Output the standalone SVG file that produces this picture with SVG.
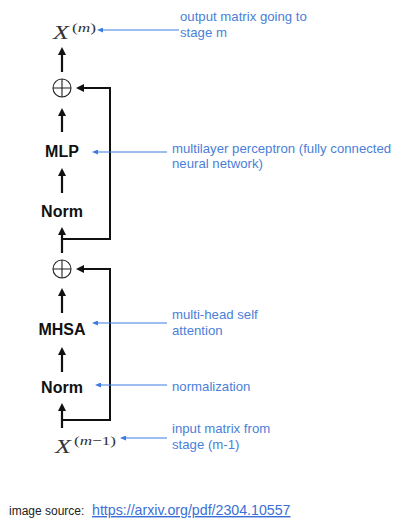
<svg xmlns="http://www.w3.org/2000/svg" width="400" height="523" viewBox="0 0 400 523">
<style>
.blk{font-family:"Liberation Sans",Arial,sans-serif;font-weight:bold;font-size:16px;fill:#111;text-anchor:middle}
.lbl{font-family:"Liberation Sans",Arial,sans-serif;font-size:13.2px;fill:#4a80d9}
.mx{font-family:"Liberation Serif","Times New Roman",serif;fill:#333}
.it{font-style:italic}
.arr{stroke:#111;stroke-width:2.2;fill:none;marker-end:url(#ah)}
.fb{stroke:#111;stroke-width:2;fill:none;marker-end:url(#ah)}
.bl{stroke:#3c7be0;stroke-width:1;fill:none;marker-end:url(#bh)}
.plus{stroke:#222;stroke-width:1.1;fill:none}
</style>
<defs>
<marker id="ah" viewBox="0 0 8 8" markerWidth="8" markerHeight="8" refX="2" refY="4" orient="auto" markerUnits="userSpaceOnUse">
<path d="M0,0 L8,4 L0,8 z" fill="#111"/>
</marker>
<marker id="bh" viewBox="0 0 6 5" markerWidth="6" markerHeight="5" refX="1" refY="2.5" orient="auto" markerUnits="userSpaceOnUse">
<path d="M0,0 L6,2.5 L0,5 z" fill="#3c7be0"/>
</marker>
</defs>
<rect width="400" height="523" fill="#fff"/>

<g id="connectors">
<line class="arr" x1="62" y1="72" x2="62" y2="53"/>
<line class="arr" x1="62" y1="132" x2="62" y2="114"/>
<line class="arr" x1="62" y1="193" x2="62" y2="174"/>
<line class="arr" x1="62" y1="253" x2="62" y2="233"/>
<line class="arr" x1="62" y1="313" x2="62" y2="294"/>
<line class="arr" x1="62" y1="372" x2="62" y2="353"/>
<line class="arr" x1="62" y1="428" x2="62" y2="409"/>
<path class="fb" d="M62,239 H110 V88 H82"/>
<path class="fb" d="M62,420 H110 V269 H82"/>
<line class="bl" x1="179" y1="30" x2="102" y2="30"/>
<line class="bl" x1="167" y1="152" x2="97" y2="152"/>
<line class="bl" x1="167" y1="323" x2="97" y2="323"/>
<line class="bl" x1="167" y1="385" x2="100" y2="385"/>
<line class="bl" x1="167" y1="438" x2="125" y2="438"/>
</g>

<g id="x_out">
<text class="mx it" x="53" y="39" font-size="18.5" textLength="16" lengthAdjust="spacingAndGlyphs">X</text>
<text class="mx" x="72" y="32" font-size="13" textLength="24" lengthAdjust="spacingAndGlyphs">(<tspan class="it">m</tspan>)</text>
</g>
<g id="add2">
<circle class="plus" cx="62" cy="88" r="9"/>
<path class="plus" d="M53,88 H71 M62,79 V97"/>
</g>
<g id="mlp"><text class="blk" x="62" y="157">MLP</text></g>
<g id="norm2"><text class="blk" x="62" y="217">Norm</text></g>
<g id="add1">
<circle class="plus" cx="62" cy="269" r="9"/>
<path class="plus" d="M53,269 H71 M62,260 V278"/>
</g>
<g id="mhsa"><text class="blk" x="62" y="335">MHSA</text></g>
<g id="norm1"><text class="blk" x="62" y="393">Norm</text></g>
<g id="x_in">
<text class="mx it" x="55" y="453" font-size="18.5" textLength="16" lengthAdjust="spacingAndGlyphs">X</text>
<text class="mx" x="74" y="445" font-size="13" textLength="42" lengthAdjust="spacingAndGlyphs">(<tspan class="it">m</tspan>−1)</text>
</g>

<g id="labels">
<text class="lbl" x="180" y="21">output matrix going to</text>
<text class="lbl" x="180" y="37">stage m</text>
<text class="lbl" x="172" y="153">multilayer perceptron (fully connected</text>
<text class="lbl" x="172" y="168">neural network)</text>
<text class="lbl" x="172" y="319">multi-head self</text>
<text class="lbl" x="172" y="335">attention</text>
<text class="lbl" x="172" y="391">normalization</text>
<text class="lbl" x="172" y="433">input matrix from</text>
<text class="lbl" x="172" y="449">stage (m-1)</text>
</g>

<g id="footer">
<text x="9" y="515" font-family="Liberation Sans,Arial,sans-serif" font-size="12" fill="#222">image source:</text>
<text x="92" y="515" font-family="Liberation Sans,Arial,sans-serif" font-size="14.2" fill="#3b6fd6" text-decoration="underline">https://arxiv.org/pdf/2304.10557</text>
</g>
</svg>
